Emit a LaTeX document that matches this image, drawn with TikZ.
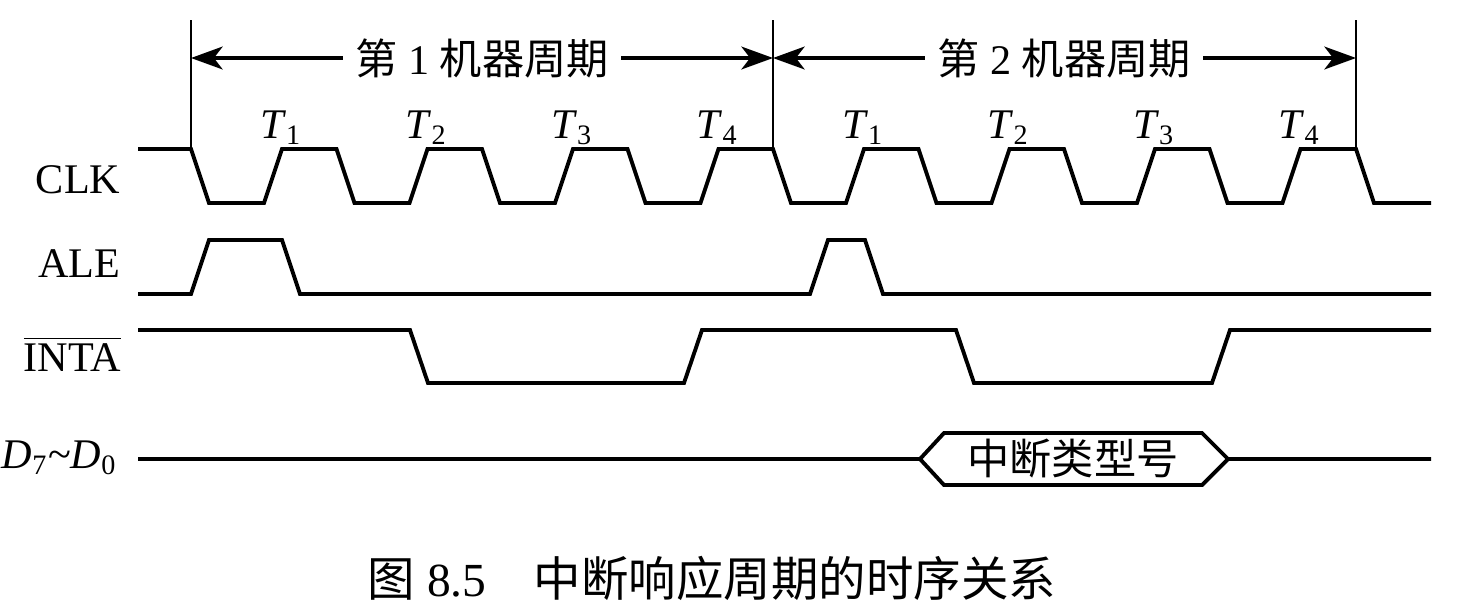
\documentclass[tikz,border=0pt]{standalone}
\usepackage{fontspec}
\setmainfont{Liberation Serif}
\newfontfamily\cjk{Noto Sans CJK SC}
\usetikzlibrary{arrows.meta}

\begin{document}
\begin{tikzpicture}[x=0.01cm, y=-0.01cm, font=\fontsize{12}{14}\selectfont,
    wave/.style={line width=1.1pt, line join=miter},
    bound/.style={line width=0.8pt},
    span/.style={line width=0.9pt, -{Stealth[length=9pt, width=6.5pt, inset=2.5pt]}},
    sig/.style={anchor=base east, inner sep=0pt}]
    \useasboundingbox (0,0) rectangle (1460,614);

    % draw machine cycle boundaries
    \foreach \x/\n in {191/b0, 773/b1, 1356/b2} {
      \coordinate (\n) at (\x,58);
      \draw[bound] (\x,20) -- (\x,149);
    }

    % draw cycle labels
    \node (c1) at (482,58) {{\cjk 第} 1 {\cjk 机器周期}};
    \node (c2) at (1064,58) {{\cjk 第} 2 {\cjk 机器周期}};
    \draw[span] (c1) -- (b0);
    \draw[span] (c1) -- (b1);
    \draw[span] (c2) -- (b1);
    \draw[span] (c2) -- (b2);

    % draw signal names
    \node[sig] (clk) at (121,193) {CLK};
    \node[sig] (ale) at (121,277) {ALE};
    \node[sig] (inta) at (122,371) {$\overline{\mbox{INTA}}$};
    \node[sig] (data) at (118,468) {\textit{D}\textsubscript{7}\textasciitilde\textit{D}\textsubscript{0}};

    % draw clock
    \draw[wave] (138,149) foreach \i in {0,...,7} {
        -- ({191+\i*145.5},149) -- ({209+\i*145.5},203)
        -- ({264+\i*145.5},203) -- ({282+\i*145.5},149)}
      -- (1356,149) -- (1374,203) -- (1431,203);

    % draw T states
    \foreach \i/\n in {0/1,1/2,2/3,3/4,4/1,5/2,6/3,7/4}
      \node[anchor=base, inner sep=0pt] (t\i) at ({281+\i*145.5},138) {\textit{T}\textsubscript{\n}};

    % draw ALE
    \draw[wave] (138,294) -- (191,294) -- (209,240) -- (282,240) -- (300,294)
      -- (810,294) -- (828,240) -- (865,240) -- (883,294) -- (1431,294);

    % draw INTA
    \draw[wave] (138,330) -- (410,330) -- (428,383) -- (684,383) -- (702,330)
      -- (956,330) -- (974,383) -- (1212,383) -- (1230,330) -- (1431,330);

    % draw data bus
    \node (type) at (1073,459) {\cjk 中断类型号};
    \draw[wave] (138,459) -- (920,459) -- (944,433) -- (1202,433) -- (1228,459) -- (1431,459);
    \draw[wave] (920,459) -- (944,485) -- (1202,485) -- (1228,459);

    % draw caption
    \node[font=\fontsize{13.5}{16}\selectfont] (cap) at (712,578)
      {{\cjk 图} 8.5\quad{\cjk 中断响应周期的时序关系}};
  \end{tikzpicture}
\end{document}
